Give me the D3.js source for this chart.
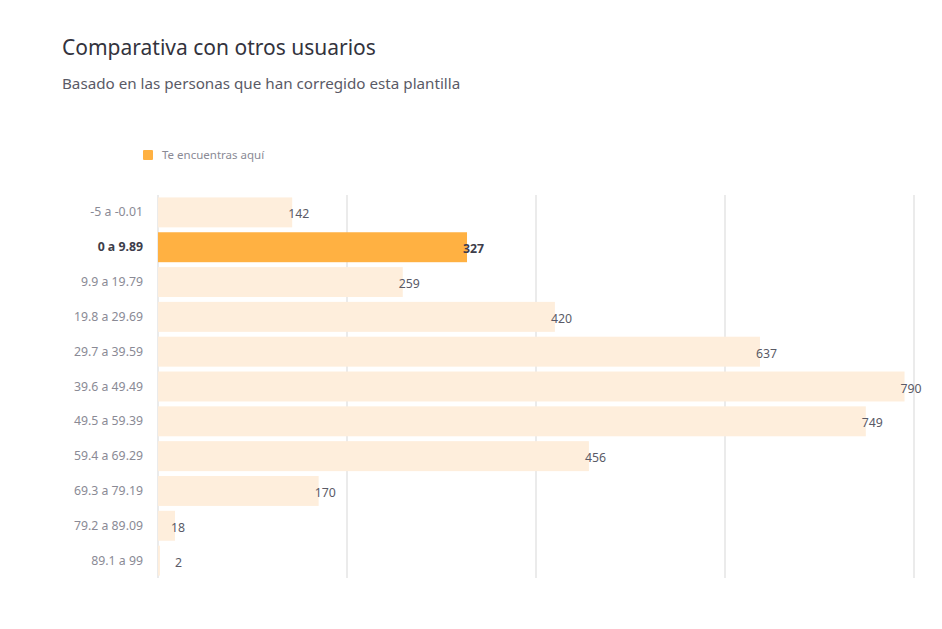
<!DOCTYPE html>
<html>
<head>
<meta charset="utf-8">
<script src="https://cdn.jsdelivr.net/npm/d3@7"></script>
<style>
  body { margin: 0; background: #fff; font-family: "Noto Sans", sans-serif; }
</style>
</head>
<body>
<div id="chart"></div>
<script>
// data
const categories = [
  "-5 a -0.01", "0 a 9.89", "9.9 a 19.79", "19.8 a 29.69", "29.7 a 39.59",
  "39.6 a 49.49", "49.5 a 59.39", "59.4 a 69.29", "69.3 a 79.19",
  "79.2 a 89.09", "89.1 a 99",
];
const counts = [142, 327, 259, 420, 637, 790, 749, 456, 170, 18, 2];
const highlighted = "0 a 9.89";
const gridTicks = [0, 200, 400, 600, 800];

const W = 942, H = 629;
const svg = d3.select("#chart").append("svg")
  .attr("width", W).attr("height", H);

// titles
svg.append("text").attr("x", 62).attr("y", 55)
  .attr("font-size", 21).attr("fill", "#33333d").text("Comparativa con otros usuarios");
svg.append("text").attr("x", 62).attr("y", 89)
  .attr("font-size", 15.2).attr("fill", "#5a5a66").text("Basado en las personas que han corregido esta plantilla");

// legend
svg.append("rect").attr("x", 143).attr("y", 150).attr("width", 10).attr("height", 10)
  .attr("rx", 1).attr("fill", "#ffb142");
svg.append("text").attr("x", 162).attr("y", 159)
  .attr("font-size", 11.5).attr("fill", "#8a8a95").text("Te encuentras aquí");

const x = d3.scaleLinear().domain([0, 800]).range([158, 914]);
const y = d3.scaleBand().domain(categories).range([195, 578]).paddingInner(0.14).paddingOuter(0.07);

// vertical grid
svg.append("g").selectAll("line")
  .data(gridTicks).enter().append("line")
  .attr("x1", (d) => x(d)).attr("x2", (d) => x(d))
  .attr("y1", 195).attr("y2", 578)
  .attr("stroke", "#ebebeb").attr("stroke-width", 2);

const rows = categories.map((c, i) => ({ cat: c, value: counts[i] }));

// bars
svg.append("g").selectAll("rect")
  .data(rows).enter().append("rect")
  .attr("x", x(0))
  .attr("y", (d) => y(d.cat))
  .attr("width", (d) => x(d.value) - x(0))
  .attr("height", y.bandwidth())
  .attr("fill", (d) => d.cat === highlighted ? "#ffb142" : "#feeedc");

// category labels
svg.append("g").selectAll("text")
  .data(rows).enter().append("text")
  .attr("x", 143)
  .attr("y", (d) => y(d.cat) + y.bandwidth() / 2 + 4)
  .attr("text-anchor", "end")
  .attr("font-size", 12.3)
  .attr("font-weight", (d) => d.cat === highlighted ? "bold" : "normal")
  .attr("fill", (d) => d.cat === highlighted ? "#3d3d4a" : "#8a8a95")
  .text((d) => d.cat);

// value labels, pushed off the axis when the bar is tiny
svg.append("g").selectAll("text")
  .data(rows).enter().append("text")
  .attr("x", (d) => (x(d.value) - x(0) < 10 ? x(0) + 17 : x(d.value) - 4))
  .attr("y", (d) => y(d.cat) + y.bandwidth() / 2 + 6)
  .attr("font-size", 12.3)
  .attr("font-weight", (d) => d.cat === highlighted ? "bold" : "normal")
  .attr("fill", (d) => d.cat === highlighted ? "#3d3d4a" : "#5a5a66")
  .text((d) => d.value);
</script>
</body>
</html>
